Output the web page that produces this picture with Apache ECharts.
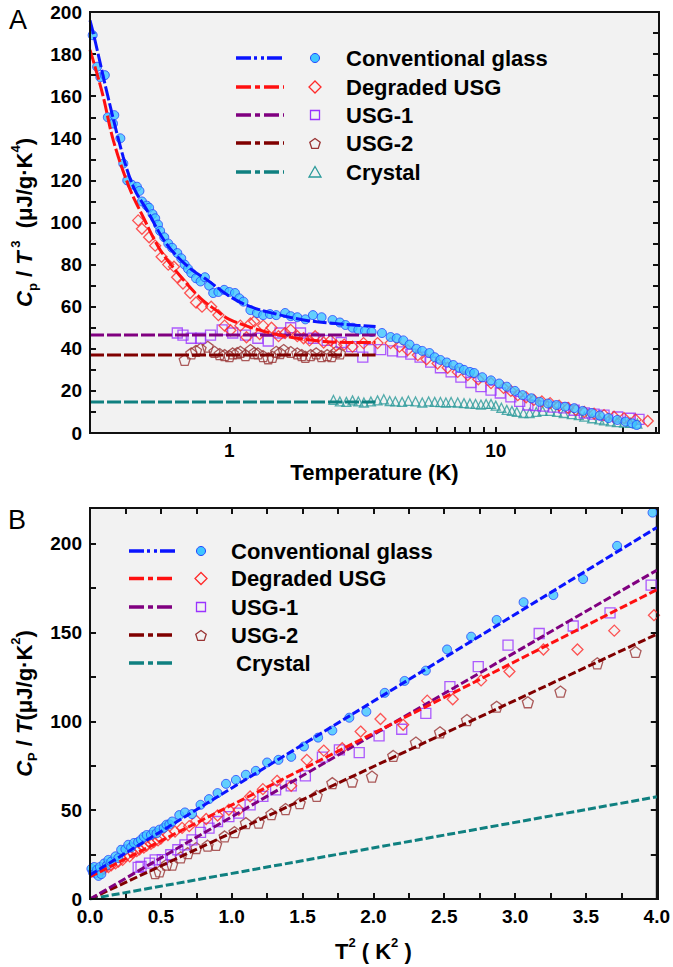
<!DOCTYPE html>
<html lang="en">
<head>
<meta charset="UTF-8">
<title>Cp/T3 and Cp/T</title>
<script src="https://cdn.jsdelivr.net/npm/echarts@6/dist/echarts.min.js"></script>
</head>
<body style="margin:0">
<div id="main" style="width:673px;height:967px"></div>
<script>
// ---------- series names ----------
const seriesNames = ['Conventional glass', 'Degraded USG', 'USG-1', 'USG-2', 'Crystal'];

// ---------- panel A : Cp/T^3 vs T (log T) ----------
const convT = [0.307,0.319,0.328,0.341,0.35,0.366,0.37,0.39,0.40,0.414,0.43,0.45,0.46,0.47,0.49,0.50,0.515,0.527,0.54,0.55,0.57,0.59,0.61,0.638,0.66,0.68,0.70,0.72,0.75,0.78,0.81,0.84,0.87,0.91,0.957,1.0,1.05,1.09,1.13,1.2,1.27,1.34,1.42,1.5,1.62,1.7,1.8,1.93,2.06,2.22,2.44,2.6,2.73,2.9,3.05,3.23,3.42,3.74,4.03,4.25,4.5,4.75,5.04,5.3,5.64,5.9,6.2,6.55,6.93,7.3,7.6,8.0,8.3,8.9,9.6,10.3,11,11.8,12.6,13.6,14.6,15.7,16.9,18.2,19.7,21.2,22.9,24.6,26.5,28.6,30.7,32.5,33.8];
const convV = [189,174,169,170,150,147,151,140,128,120,118,117,115,110,108,107,104,102,99,96,93,90,88,85.5,83,80,78,76,73.5,72,74,70,66.5,67,68,67,66.5,64,62.4,58.4,57,56,56.5,56,57,55.5,55,54,56,55,53.7,52.5,51.3,50,49,48.5,48,47.5,45.6,45,44,42,40,39,38,36,34.7,33.5,32.3,31,30,29,28.5,26.5,25,23.5,22,20,18,16.5,14.8,14,13.3,12.5,11.8,10.5,9.5,8.3,7.1,6.2,5.4,4.6,3.8];

const degT = [0.455,0.47,0.50,0.527,0.557,0.59,0.62,0.637,0.67,0.713,0.75,0.79,0.855,0.91,0.96,1.01,1.1,1.16,1.2,1.24,1.3,1.34,1.44,1.53,1.62,1.7,1.8,1.9,2.0,2.1,2.26,2.4,2.52,2.7,2.9,3.19,3.6,4.03,4.35,4.67,5.1,5.5,6.05,6.6,7.2,7.85,8.6,9.6,10.7,11.4,12.1,13,13.9,14.9,16,17.3,18.7,20,21.5,23.4,25.5,27.8,30.3,33.5,37.2];
const degV = [101,97,93,89,83.7,80,79,74,71,66.5,62,60,60,56,51,48.8,51,45.5,52,53,47,51,50,46,47.5,49,46,45,44,46,43,44,41.6,42,41,42.7,42.7,42.7,41,39.4,37,35,33,31,29,27.5,25.5,23.7,21.4,20,18,17,15.7,15,14.2,13,11.9,11,10,9.2,8.5,7.7,7,6.3,5.7];

const usg1T = [0.638,0.67,0.72,0.78,0.85,0.94,1.03,1.15,1.28,1.4,1.55,1.7,1.85,2.07,2.33,2.63,2.88,3.17,3.35,3.7,4.1,4.45,4.8,5.2,5.7,6.2,6.8,7.4,8.07,8.8,9.6,10.4,11.4,12.3,13.2,14.1,15.1,16.5,18,19.7,21.5,23.4,25.5,28.7,32,34.5];
const usg1V = [47.5,46.5,45,45,46.5,49,47.5,46.5,45,43.7,47.5,50,47.5,45,44,43,41,36,39.6,39.6,39,38.5,37.5,36,33.7,31,29,26.5,24,22,20.4,19,17.2,15,13.3,13,12.8,12.3,11.9,10.8,9.5,9,8.5,7.6,7,6.5];

const usg2T = [0.68,0.72,0.75,0.78,0.83,0.88,0.92,0.96,1.0,1.03,1.07,1.1,1.15,1.2,1.24,1.28,1.34,1.4,1.45,1.5,1.55,1.6,1.7,1.8,1.87,1.93,2.02,2.12,2.22,2.33,2.42,2.52,2.6];
const usg2V = [34.7,37.8,39,40,41,38.6,37.5,37,36.5,37.8,38,38.6,37,39.4,38,37.8,36.5,35.5,36.2,38.6,38,39.4,38.5,37.8,37,36.2,37,37.8,36.5,37,36.5,38.6,37.8];

const crysT = [2.46,2.6,2.75,2.9,3.05,3.2,3.4,3.6,3.8,4.0,4.2,4.45,4.7,5.0,5.3,5.6,5.9,6.2,6.5,6.8,7.2,7.6,8.0,8.4,8.8,9.2,9.6,10.0,10.5,11,11.5,12.0,12.7,13.4,14.2,15,16,17,18,19.3,20.5,21.5,23,24.5,25.5,27,28.5,30.3,32,34];
const crysV = [15.7,15,14.8,15.5,15,14.5,15,15.5,16,15.2,15,14.8,15.3,15,14.5,15,14.8,14.7,14.5,14.7,14.5,14.2,14,13.8,13.5,13.8,13.8,13,12,11,10.5,10,9.5,9.5,10,10.5,10.5,10,9.5,9,8.5,7.8,7,6.5,6,5.5,5.2,5,4.8,4.5];

// fitted curves in panel A
const convFitT = [0.3,0.31,0.35,0.4,0.44,0.49,0.58,0.7,0.83,1.0,1.2,1.5,1.9,2.5,3.0,3.54];
const convFitV = [196,189,160,131,116,106,90,79,72.5,65,60,56.5,53.7,52,51.2,50.6];
const degFitT = [0.3,0.31,0.336,0.367,0.42,0.475,0.55,0.66,0.78,0.89,1.0,1.29,1.7,2.26,3.0,3.54];
const degFitV = [182,176,160,139,117,102.6,87,74,64,58.4,54,49,45.5,43.5,43,43];
const flatFitT = [0.3, 3.54];
const usg1FitV = [46.5, 46.5];
const usg2FitV = [37, 37];
const crysFitV = [14.7, 14.7];

// ---------- panel B : Cp/T vs T^2 ----------
const bConvX = [0.01,0.02,0.03,0.04,0.05,0.06,0.07,0.08,0.10,0.12,0.13,0.15,0.18,0.20,0.22,0.25,0.27,0.29,0.31,0.34,0.36,0.38,0.40,0.43,0.45,0.47,0.49,0.52,0.54,0.56,0.58,0.63,0.67,0.72,0.78,0.84,0.90,0.96,1.03,1.10,1.17,1.25,1.33,1.42,1.51,1.61,1.71,1.83,1.95,2.08,2.22,2.37,2.52,2.69,2.87,3.06,3.27,3.48,3.72,3.97];
const bConvV = [17,15,18,14.6,16.5,13,18,14,20,19,22,21,24,23,27.7,28,30.5,29,31.5,32,33.3,35,36,36,38,37,39,40,41.8,42,43.6,47.2,48.7,47.8,53,56.2,59.6,64.8,67,69.9,72.1,76.8,78.3,80,85.8,90.8,94.8,102,105.4,116,122.7,128.5,140.4,147.6,157,167,171,180,198.7,217.4];

const bDegX = [0.08,0.1,0.13,0.15,0.18,0.2,0.23,0.25,0.28,0.3,0.33,0.35,0.38,0.4,0.43,0.45,0.48,0.5,0.55,0.6,0.65,0.7,0.75,0.82,0.9,0.98,1.05,1.13,1.22,1.32,1.42,1.53,1.65,1.78,1.91,2.05,2.21,2.38,2.56,2.76,2.96,3.20,3.44,3.70,3.98];
const bDegV = [16,17,18,19,20,21,22,24,24,26,27,28,29,30,31,32,33,34,36,38,40,41,44,45,47,50.2,50.2,57.7,61.8,66.5,63.7,78.3,83.5,84.8,94.2,101.3,98,111.6,112.4,123,128,140.4,140.4,151,159.7];

const bUsg1X = [0.34,0.36,0.42,0.46,0.51,0.57,0.62,0.67,0.72,0.78,0.84,0.90,0.98,1.05,1.13,1.22,1.31,1.42,1.52,1.64,1.76,1.90,2.04,2.20,2.37,2.54,2.74,2.95,3.17,3.41,3.67,3.96];
const bUsg1V = [17.8,18.4,20.2,22,22.1,24.9,27.7,30.5,33.3,37.5,39.9,43.6,46.4,48.3,53,57.7,61.4,63.7,69.3,79.8,83.9,82.4,91.8,95.5,104.5,119.5,130.7,142.9,149.4,153.6,161,176.6];

const bUsg2X = [0.46,0.49,0.54,0.58,0.64,0.69,0.75,0.83,0.89,0.95,1.02,1.10,1.19,1.28,1.38,1.48,1.60,1.71,1.85,1.99,2.14,2.30,2.47,2.66,2.87,3.09,3.32,3.58,3.85];
const bUsg2V = [14.6,15.5,19.3,19.3,23.4,25.8,28.7,30,30.5,35.2,37.6,42.7,43,47.8,50.6,53.9,58,65.2,66.1,68.9,80.5,88,93.8,100.7,108.2,110.7,116.7,132.6,139];

// linear fits in panel B (end points)
const bFitX = [0, 4];
const bConvFit = [13.5, 209];
const bDegFit = [12.5, 174];
const bUsg1Fit = [0, 185];
const bUsg2Fit = [0, 149];
const bCrysFit = [0, 57.5];

// ---------- tick values ----------
const xLabelsA = [1, 10];
const xTicksA = [1, 2, 3, 4, 5, 6, 7, 8, 9, 10, 20, 30, 40];
const yLabelsA = [0, 20, 40, 60, 80, 100, 120, 140, 160, 180, 200];
const yTicksA = [0, 10, 20, 30, 40, 50, 60, 70, 80, 90, 100, 110, 120, 130, 140, 150, 160, 170, 180, 190, 200];
const xLabelsB = [0, 0.5, 1, 1.5, 2, 2.5, 3, 3.5, 4];
const xTicksB = [0, 0.25, 0.5, 0.75, 1, 1.25, 1.5, 1.75, 2, 2.25, 2.5, 2.75, 3, 3.25, 3.5, 3.75, 4];
const yLabelsB = [0, 50, 100, 150, 200];
const yTicksB = [0, 25, 50, 75, 100, 125, 150, 175, 200];

// ---------- styling ----------
const FONT = '"Liberation Sans", Arial, sans-serif';
const INK = '#111';
const lineColors = ['#0a14ff', '#ff1010', '#800080', '#800000', '#0f8080'];
const markColors = ['#2244ff', '#ff2a2a', '#9a33ff', '#993333', '#2a9a9a'];
const cyanFill = '#3fc6ff';
const pentagon = 'path://M50,0 L100,36 L81,95 L19,95 L0,36 Z';

// plot boxes (pixels)
const boxA = { x: 90, y: 12, w: 569, h: 421 };
const boxB = { x: 90, y: 508, w: 568, h: 391 };

const pairs = (xs, ys) => xs.map((x, i) => [x, ys[i]]);

function axis(gridIndex, position, type, min, max, ticks, labels, extra) {
  const a = {
    gridIndex, position, type, min, max,
    axisLine: { show: true, onZero: false, lineStyle: { color: INK, width: 2 } },
    splitLine: { show: false },
    axisTick: { show: true, inside: true, length: 6, customValues: ticks, lineStyle: { color: INK, width: 2 } },
    axisLabel: labels ? {
      show: true, customValues: labels, color: '#000', fontFamily: FONT,
      fontWeight: 'bold', fontSize: 19, margin: 8
    } : { show: false }
  };
  if (type === 'log') a.logBase = 10;
  return Object.assign(a, extra || {});
}

const titleRich = {
  n: { fontFamily: FONT, fontWeight: 'bold', fontSize: 22, color: '#000', lineHeight: 30, verticalAlign: 'middle' },
  i: { fontFamily: FONT, fontWeight: 'bold', fontStyle: 'italic', fontSize: 22, color: '#000', lineHeight: 30, verticalAlign: 'middle' },
  sup: { fontFamily: FONT, fontWeight: 'bold', fontSize: 13, color: '#000', lineHeight: 14, verticalAlign: 'top' },
  sub: { fontFamily: FONT, fontWeight: 'bold', fontSize: 13, color: '#000', lineHeight: 14, verticalAlign: 'bottom' }
};

const xAxes = [
  axis(0, 'bottom', 'log', 0.3, 41, xTicksA, xLabelsA, {
    name: 'Temperature (K)', nameLocation: 'middle', nameGap: 28,
    nameTextStyle: { fontFamily: FONT, fontWeight: 'bold', fontSize: 22, color: '#000' }
  }),
  axis(1, 'bottom', 'value', 0, 4, xTicksB, xLabelsB, {
    name: '{n|T}{sup|2}{n| ( K}{sup|2}{n| )}', nameLocation: 'middle', nameGap: 37,
    nameTextStyle: { rich: titleRich }
  }),
  axis(1, 'top', 'value', 0, 4, xTicksB, null)
];
xAxes[1].axisLabel.formatter = v => Number(v).toFixed(1);

const yAxes = [
  axis(0, 'left', 'value', 0, 200, yTicksA, yLabelsA, {
    name: '{i|C}{sub|p}{n| / }{i|T}{sup| 3}{n|  (μJ/g·K}{sup|4}{n|)}',
    nameLocation: 'middle', nameGap: 48, nameRotate: 90,
    nameTextStyle: { rich: titleRich }
  }),
  axis(0, 'right', 'value', 0, 200, yTicksA, null),
  axis(1, 'left', 'value', 0, 220, yTicksB, yLabelsB, {
    name: '{i|C}{sub|P}{n| / }{i|T}{n|(μJ/g·K}{sup|2}{n|)}',
    nameLocation: 'middle', nameGap: 48, nameRotate: 90,
    nameTextStyle: { rich: titleRich }
  }),
  axis(1, 'right', 'value', 0, 220, yTicksB, null)
];

function scatter(idx, data, panel) {
  const symbols = ['circle', 'diamond', 'rect', pentagon, 'triangle'];
  const sizes = [9, 11, 10, 11, 9];
  return {
    type: 'scatter', name: seriesNames[idx], data,
    xAxisIndex: panel, yAxisIndex: panel * 2,
    symbol: symbols[idx], symbolSize: sizes[idx], z: 2,
    itemStyle: {
      color: idx === 0 ? cyanFill : 'rgba(0,0,0,0)',
      borderColor: markColors[idx], borderWidth: idx === 0 ? 1 : 1.3
    }
  };
}

function fitLine(idx, data, panel, smooth) {
  return {
    type: 'line', name: seriesNames[idx] + ' fit', data,
    xAxisIndex: panel, yAxisIndex: panel * 2,
    symbol: 'none', smooth: smooth ? 0.35 : false, z: 3,
    lineStyle: { color: lineColors[idx], width: 3, type: panel === 0 ? [14, 3] : [8, 3] }
  };
}

const series = [
  scatter(4, pairs(crysT, crysV), 0),
  scatter(3, pairs(usg2T, usg2V), 0),
  scatter(2, pairs(usg1T, usg1V), 0),
  scatter(1, pairs(degT, degV), 0),
  scatter(0, pairs(convT, convV), 0),
  fitLine(4, pairs(flatFitT, crysFitV), 0),
  fitLine(3, pairs(flatFitT, usg2FitV), 0),
  fitLine(2, pairs(flatFitT, usg1FitV), 0),
  fitLine(1, pairs(degFitT, degFitV), 0, true),
  fitLine(0, pairs(convFitT, convFitV), 0, true),

  scatter(3, pairs(bUsg2X, bUsg2V), 1),
  scatter(2, pairs(bUsg1X, bUsg1V), 1),
  scatter(1, pairs(bDegX, bDegV), 1),
  scatter(0, pairs(bConvX, bConvV), 1),
  fitLine(4, pairs(bFitX, bCrysFit), 1),
  fitLine(3, pairs(bFitX, bUsg2Fit), 1),
  fitLine(2, pairs(bFitX, bUsg1Fit), 1),
  fitLine(1, pairs(bFitX, bDegFit), 1),
  fitLine(0, pairs(bFitX, bConvFit), 1)
];

// ---------- hand-drawn legends (line sample, marker, label) ----------
function legend(rowsY, lineX, lineW, markX, textX, crystalMarker) {
  const els = [];
  const dashes = [[15, 3, 3, 4, 3, 3], [15, 4, 5, 4], [15, 4, 5, 4], [15, 4, 5, 4], [15, 4, 5, 4]];
  rowsY.forEach((y, i) => {
    els.push({ type: 'line', shape: { x1: lineX, y1: y, x2: lineX + lineW, y2: y },
      style: { stroke: lineColors[i], lineWidth: 3.5, lineDash: dashes[i] } });
    const st = { fill: 'none', stroke: markColors[i], lineWidth: 1.3 };
    if (i === 0) {
      els.push({ type: 'circle', shape: { cx: markX, cy: y, r: 4.5 }, style: { fill: cyanFill, stroke: markColors[0], lineWidth: 1 } });
    } else if (i === 1) {
      els.push({ type: 'polygon', shape: { points: [[markX, y - 6], [markX + 6, y], [markX, y + 6], [markX - 6, y]] }, style: st });
    } else if (i === 2) {
      els.push({ type: 'rect', shape: { x: markX - 4.5, y: y - 4.5, width: 9, height: 9 }, style: st });
    } else if (i === 3) {
      const pts = [];
      for (let k = 0; k < 5; k++) {
        const a = (-90 + 72 * k) * Math.PI / 180;
        pts.push([markX + 5.5 * Math.cos(a), y + 1 + 5.5 * Math.sin(a)]);
      }
      els.push({ type: 'polygon', shape: { points: pts }, style: st });
    } else if (crystalMarker) {
      els.push({ type: 'polygon', shape: { points: [[markX, y - 5.5], [markX + 6, y + 5], [markX - 6, y + 5]] }, style: st });
    }
    els.push({ type: 'text', x: (i === 4 && !crystalMarker) ? textX + 5 : textX, y,
      style: { text: seriesNames[i], fill: '#000', fontFamily: FONT, fontWeight: 'bold',
               fontSize: 22, verticalAlign: 'middle', align: 'left' } });
  });
  return els;
}

// frame of a plot box as four thin filled bars, drawn above the data
function frame(b) {
  const t = 2;
  return [
    { x: b.x - 1, y: b.y - 1, width: b.w + t, height: t },
    { x: b.x - 1, y: b.y + b.h - 1, width: b.w + t, height: t },
    { x: b.x - 1, y: b.y - 1, width: t, height: b.h + t },
    { x: b.x + b.w - 1, y: b.y - 1, width: t, height: b.h + t }
  ].map(s => ({ type: 'rect', z: 100, silent: true, shape: s, style: { fill: INK } }));
}

const graphic = [
  { type: 'text', left: 9, top: 6, style: { text: 'A', fill: '#000', fontFamily: FONT, fontSize: 27 } },
  { type: 'text', left: 8, top: 506, style: { text: 'B', fill: '#000', fontFamily: FONT, fontSize: 27 } }
].concat(
  frame(boxA),
  frame(boxB),
  legend([58, 87, 115, 143, 172], 236, 48, 315, 346, true),
  legend([551, 578.5, 607, 635, 663], 129, 47, 201, 231, false)
);

const option = {
  animation: false,
  grid: [
    { left: boxA.x, top: boxA.y, width: boxA.w, height: boxA.h, show: true, backgroundColor: '#f2f2f2', borderColor: INK, borderWidth: 2 },
    { left: boxB.x, top: boxB.y, width: boxB.w, height: boxB.h, show: true, backgroundColor: '#f2f2f2', borderColor: INK, borderWidth: 2 }
  ],
  xAxis: xAxes,
  yAxis: yAxes,
  series,
  graphic
};

const chart = echarts.init(document.getElementById('main'), null, { renderer: 'svg' });
chart.setOption(option);
</script>
</body>
</html>
